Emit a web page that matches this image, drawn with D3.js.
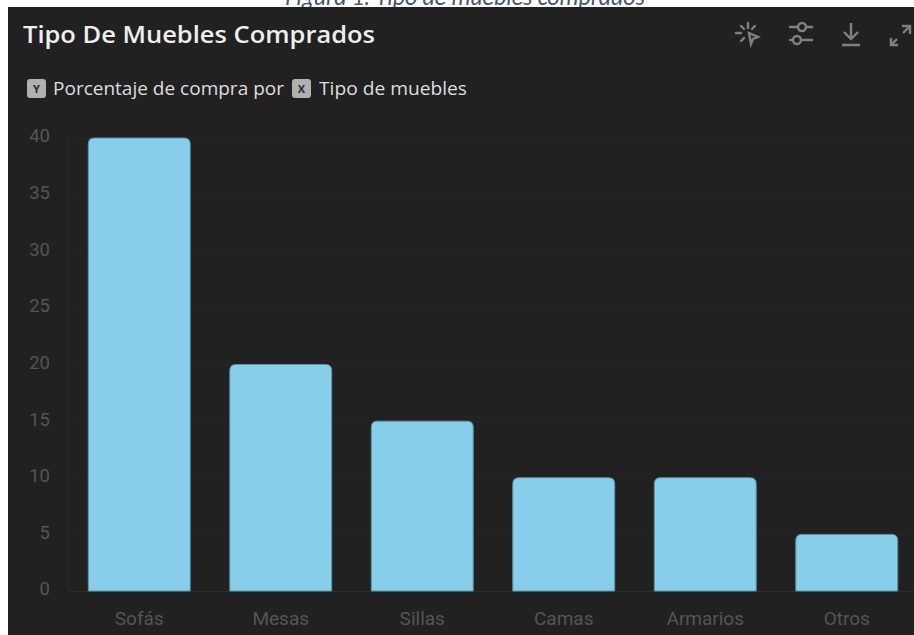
<!DOCTYPE html>
<html>
<head>
<meta charset="utf-8">
<script src="https://cdn.jsdelivr.net/npm/d3@7"></script>
<style>
html,body{margin:0;padding:0;background:#fff;overflow:hidden}
svg{display:block}
</style>
</head>
<body>
<svg id="chart" width="914" height="635"></svg>
<script>
const categories = ["Sofás", "Mesas", "Sillas", "Camas", "Armarios", "Otros"];
const porcentajes = [40, 20, 15, 10, 10, 5];
const yTicks = [0, 5, 10, 15, 20, 25, 30, 35, 40];

const captionText = "Figura 1: Tipo de muebles comprados";
const titleText = "Tipo De Muebles Comprados";
const yField = "Porcentaje de compra por";
const xField = "Tipo de muebles";

const svg = d3.select("#chart");
const uiFont = "'Open Sans','Noto Sans',sans-serif";
const axisFont = "Roboto,'Liberation Sans',sans-serif";

// Figure caption, its lower edge sits under the card
svg.append("text").attr("x", 465).attr("y", 5).attr("text-anchor", "middle")
  .attr("font-family", "Carlito,Calibri,'Open Sans',sans-serif").attr("font-style", "italic")
  .attr("font-size", 23.8).attr("fill", "#44546a").text(captionText);

// Card background
svg.append("rect").attr("x", 8).attr("y", 7).attr("width", 906).attr("height", 628).attr("fill", "#212121");

svg.append("text").attr("x", 23).attr("y", 43)
  .attr("font-family", uiFont).attr("font-weight", 600).attr("font-size", 24)
  .attr("textLength", 352).attr("lengthAdjust", "spacingAndGlyphs")
  .attr("fill", "#eeeeee").text(titleText);

// Field badges with their labels
function badge(x, letter) {
  svg.append("rect").attr("x", x).attr("y", 79).attr("width", 19).attr("height", 19).attr("rx", 3).attr("fill", "#b0b0b0");
  svg.append("text").attr("x", x + 9.5).attr("y", 93).attr("text-anchor", "middle")
    .attr("font-family", uiFont).attr("font-weight", 700).attr("font-size", 11)
    .attr("fill", "#2a2a2a").text(letter);
}
function fieldLabel(x, t, w) {
  svg.append("text").attr("x", x).attr("y", 95)
    .attr("font-family", uiFont).attr("font-size", 18.5)
    .attr("textLength", w).attr("lengthAdjust", "spacingAndGlyphs")
    .attr("fill", "#dedede").text(t);
}
badge(27, "Y");
fieldLabel(53, yField, 231);
badge(292, "X");
fieldLabel(319, xField, 148);

// Toolbar icons
const icons = svg.append("g").attr("fill", "none").attr("stroke", "#808080").attr("stroke-width", 2.4).attr("stroke-linecap", "round");
const spark = icons.append("g").attr("transform", "translate(748,34)");
[[0,-11,0,-6],[-7,-8,-4,-5],[7,-8,4,-5],[-12,-1,-7,-1],[-7,7,-4,4]].forEach(l =>
  spark.append("line").attr("x1", l[0]).attr("y1", l[1]).attr("x2", l[2]).attr("y2", l[3]));
spark.append("path").attr("d", "M1,-1 L10,3 L5,5 L3,10 Z");
const sliders = icons.append("g").attr("transform", "translate(802,34)");
sliders.append("path").attr("d", "M-12,-7 H-4 M5,-7 H10 M-12,6 H-9 M0,6 H10");
sliders.append("circle").attr("cx", 0).attr("cy", -7).attr("r", 4);
sliders.append("circle").attr("cx", -5).attr("cy", 6).attr("r", 4);
const dl = icons.append("g").attr("transform", "translate(851,34)");
dl.append("path").attr("d", "M0,-11 V5 M-7,-2 L0,5 L7,-2 M-9,11 H9").attr("stroke-linecap", "butt");
const ex = icons.append("g").attr("transform", "translate(900,36)");
ex.append("path").attr("d", "M-9,9 L-3,3 M-9,2 V9 H-2 M3,-3 L9,-9 M2,-10 H10 V-2").attr("stroke-linecap", "butt");

// Scales and axes
const x = d3.scaleBand().domain(categories).range([68.5, 917.5]).paddingInner(0.28).paddingOuter(0.14);
const y = d3.scaleLinear().domain([0, 40]).range([591, 138]);

const grid = svg.append("g").attr("stroke", "#2a2a2a").attr("stroke-width", 1).attr("stroke-dasharray", "3,3");
grid.selectAll("line").data(yTicks.filter(d => d > 0)).join("line")
  .attr("x1", 68.5).attr("x2", 914).attr("y1", d => y(d) + 0.5).attr("y2", d => y(d) + 0.5);

const yAxis = d3.axisLeft(y).tickValues(yTicks).tickSize(0).tickPadding(0);
const gy = svg.append("g").attr("transform", "translate(50,-2)").call(yAxis);
gy.select(".domain").remove();
gy.selectAll("text").attr("font-family", axisFont).attr("font-size", 18.5).attr("fill", "#555555");

svg.append("line").attr("x1", 68.5).attr("x2", 68.5).attr("y1", 138).attr("y2", 591).attr("stroke", "#2a2a2a");
svg.append("line").attr("x1", 68.5).attr("x2", 914).attr("y1", 591.5).attr("y2", 591.5).attr("stroke", "#2d2d2d");

const xAxis = d3.axisBottom(x).tickSize(0).tickPadding(0);
const gx = svg.append("g").attr("transform", "translate(0,611)").call(xAxis);
gx.select(".domain").remove();
gx.selectAll("text").attr("font-family", axisFont).attr("font-size", 19).attr("fill", "#555555");

// Bars, rounded at the top only
const r = 6;
svg.append("g").selectAll("path").data(porcentajes).join("path")
  .attr("fill", "#87ceeb").attr("stroke", "#5f93a8").attr("stroke-width", 1)
  .attr("d", (d, i) => {
    const l = x(categories[i]), w = x.bandwidth(), t = y(d), b = y(0);
    return `M${l},${b}V${t + r}Q${l},${t} ${l + r},${t}H${l + w - r}Q${l + w},${t} ${l + w},${t + r}V${b}Z`;
  });
</script>
</body>
</html>
